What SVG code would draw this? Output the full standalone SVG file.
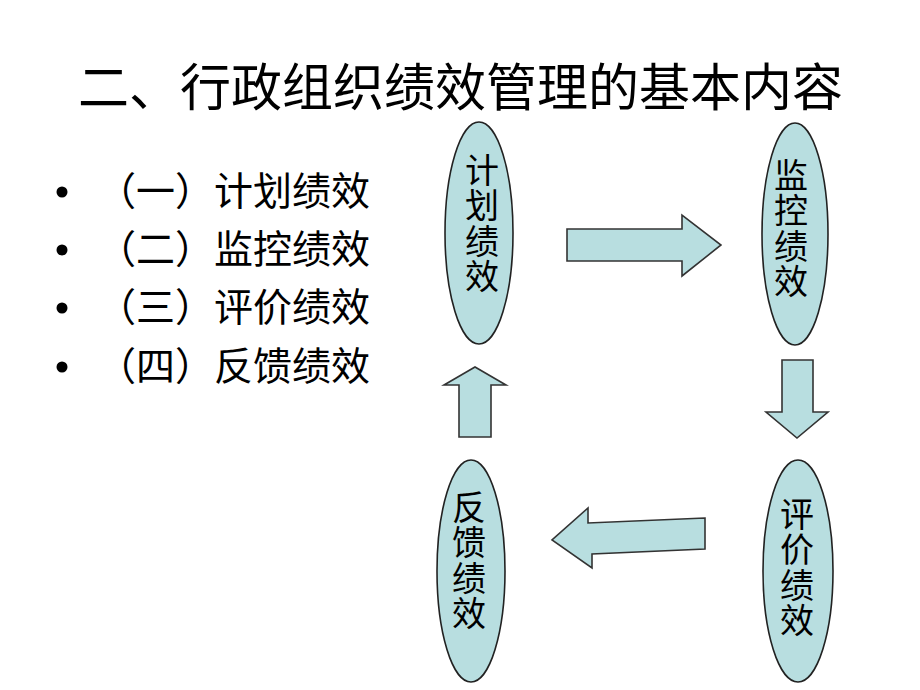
<svg xmlns="http://www.w3.org/2000/svg" width="920" height="690" viewBox="0 0 920 690">
<style>
.t{font-family:"Noto Sans CJK SC","Liberation Serif",serif;fill:#000}
.title{font-size:51px}
.item{font-size:39px}
.lab{font-size:34px;text-anchor:middle;writing-mode:vertical-rl;letter-spacing:1.5px}
.node{fill:#b8dee0;stroke:#222;stroke-width:1.6}
.arr{fill:#b8dee0;stroke:#333;stroke-width:1.6;stroke-linejoin:miter}
</style>
<rect width="920" height="690" fill="#fff"/>
<text class="t title" x="78" y="106">二、行政组织绩效管理的基本内容</text>
<g id="list">
<circle cx="62" cy="192" r="5.5" fill="#000"/>
<circle cx="62" cy="250" r="5.5" fill="#000"/>
<circle cx="62" cy="308" r="5.5" fill="#000"/>
<circle cx="62" cy="367" r="5.5" fill="#000"/>
<text class="t item" x="97" y="205">（一）计划绩效</text>
<text class="t item" x="97" y="263">（二）监控绩效</text>
<text class="t item" x="97" y="321">（三）评价绩效</text>
<text class="t item" x="97" y="380">（四）反馈绩效</text>
</g>
<g id="n1">
<ellipse class="node" cx="479" cy="233" rx="34" ry="111"/>
<text class="t lab" x="482" y="224">计划绩效</text>
</g>
<g id="n2">
<ellipse class="node" cx="795" cy="234" rx="33" ry="111"/>
<text class="t lab" x="791" y="229">监控绩效</text>
</g>
<g id="n3">
<ellipse class="node" cx="798" cy="571" rx="35" ry="111"/>
<text class="t lab" x="797" y="568">评价绩效</text>
</g>
<g id="n4">
<ellipse class="node" cx="471" cy="571" rx="34" ry="111"/>
<text class="t lab" x="469" y="561">反馈绩效</text>
</g>
<g id="connectors">
<polygon class="arr" points="567,229 682,229 682,215 721,245 682,276 682,261 567,261"/>
<polygon class="arr" points="782,360 813,360 813,412 828,412 797,438 766,412 782,412"/>
<polygon class="arr" points="705,518 588,523 588,508 552,540 592,568 592,554 705,549"/>
<polygon class="arr" points="459,437 491,437 491,385 506,385 475,367 444,385 459,385"/>
</g>
</svg>
